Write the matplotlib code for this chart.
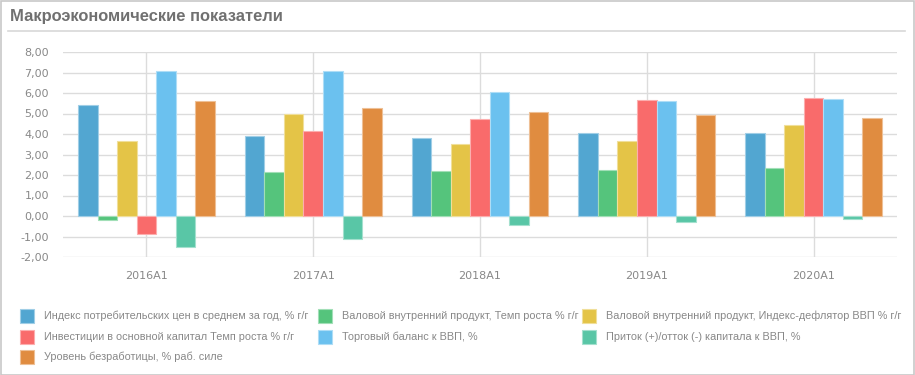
import matplotlib
matplotlib.use("Agg")
import matplotlib.pyplot as plt
import numpy as np
from matplotlib.patches import Rectangle
from matplotlib.lines import Line2D
from matplotlib import font_manager

categories = ["2016A1", "2017A1", "2018A1", "2019A1", "2020A1"]
series_names = [
    "Индекс потребительских цен в среднем за год, % г/г",
    "Валовой внутренний продукт, Темп роста % г/г",
    "Валовой внутренний продукт, Индекс-дефлятор ВВП % г/г",
    "Инвестиции в основной капитал Темп роста % г/г",
    "Торговый баланс к ВВП, %",
    "Приток (+)/отток (-) капитала к ВВП, %",
    "Уровень безработицы, % раб. силе",
]
cpi = [5.43, 3.89, 3.79, 4.03, 4.06]
gdp = [-0.18, 2.16, 2.18, 2.24, 2.33]
deflator = [3.64, 4.99, 3.50, 3.66, 4.42]
invest = [-0.89, 4.15, 4.73, 5.64, 5.74]
trade = [7.07, 7.07, 6.03, 5.62, 5.69]
capital = [-1.50, -1.14, -0.44, -0.29, -0.16]
unemp = [5.61, 5.25, 5.06, 4.91, 4.77]
series = [cpi, gdp, deflator, invest, trade, capital, unemp]
colors = ["#52a6d1", "#55c47c", "#e4c447", "#f96b6b", "#6bc1ef", "#59c6a6", "#e08c40"]
yticks = [-2, -1, 0, 1, 2, 3, 4, 5, 6, 7, 8]

plt.rcParams['font.family'] = ['DejaVu Sans']
names = {f.name for f in font_manager.fontManager.ttflist}
narrow = 'Liberation Sans Narrow' if 'Liberation Sans Narrow' in names else 'Liberation Sans'
legend_size = 9.0 if narrow == 'Liberation Sans Narrow' else 7.8

fig = plt.figure(figsize=(9.15, 3.75), dpi=100)
W, H = 915, 375

# frame
fig.patches.append(Rectangle((0.5 / W, 0.5 / H), 1 - 1.5 / W, 1 - 1.5 / H, transform=fig.transFigure,
                             fill=False, edgecolor="#c8c8c8", linewidth=1.2))
fig.text(10 / W, 1 - 17 / H, "Макроэкономические показатели", fontsize=11.9, fontweight="bold",
         family=['Liberation Sans', 'DejaVu Sans'], color="#707070", va="center", ha="left")
fig.add_artist(Line2D([8 / W, 905 / W], [1 - 31 / H, 1 - 31 / H], transform=fig.transFigure,
                      color="#d8d8d8", linewidth=1.2))

ax = fig.add_axes([63 / W, 1 - 257 / H, (897 - 63) / W, (257 - 52) / H])
x = np.arange(len(categories))
n = len(series)
bw = 0.82 / n
for i, (vals, c) in enumerate(zip(series, colors)):
    rgb = np.array(matplotlib.colors.to_rgb(c))
    edge = tuple(rgb + (1 - rgb) * 0.45)
    ax.bar(x + (i - (n - 1) / 2) * bw, vals, width=bw, color=c, edgecolor=edge, linewidth=0.8, zorder=3)

ax.set_xlim(-0.5, len(categories) - 0.5)
ax.set_ylim(-2, 8)
ax.set_yticks(yticks)
ax.set_yticklabels([f"{v:.2f}".replace(".", ",") for v in yticks])
ax.set_xticks(x)
ax.set_xticklabels(categories)
ax.grid(True, color="#dcdcdc", linewidth=1, zorder=0)
for s in ax.spines.values():
    s.set_visible(False)
ax.tick_params(length=0, colors="#888888", labelsize=8)
ax.tick_params(axis="y", pad=10)
ax.tick_params(axis="x", pad=10)

# legend
col_x = [20, 318, 582]
row_y = [316, 337, 357]
for k, (name, c) in enumerate(zip(series_names, colors)):
    r, cidx = divmod(k, 3)
    xs, ys = col_x[cidx], row_y[r]
    rgb = np.array(matplotlib.colors.to_rgb(c))
    edge = tuple(rgb + (1 - rgb) * 0.45)
    fig.patches.append(Rectangle((xs / W, 1 - (ys + 7) / H), 14 / W, 14 / H, transform=fig.transFigure,
                                 facecolor=c, edgecolor=edge, linewidth=0.8))
    fig.text((xs + 24) / W, 1 - ys / H, name, fontsize=legend_size, color="#888888", va="center", ha="left",
             family=[narrow, 'DejaVu Sans'])

fig.savefig("out.png", dpi=100)
